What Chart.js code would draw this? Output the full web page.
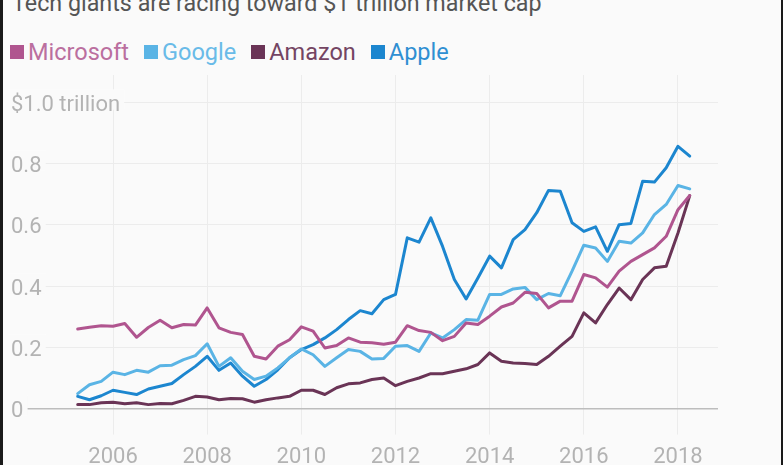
<!DOCTYPE html>
<html>
<head>
<meta charset="utf-8">
<script src="https://cdn.jsdelivr.net/npm/chart.js@4"></script>
<style>
  html, body { margin: 0; padding: 0; background: #fff; overflow: hidden; }
  #frame {
    position: absolute; left: 0; top: 0; width: 778px; height: 465px;
    background: #fafafa; border-left: 3px solid #1a1a1a; border-right: 2px solid #1a1a1a;
  }
  #title {
    position: absolute; left: 12px; top: -9px; font: 23.3px Roboto, sans-serif;
    line-height: 24px; color: #555; white-space: nowrap;
  }
  #legend {
    position: absolute; left: 10px; top: 40px; height: 24px; display: flex;
    align-items: center; font: 23.5px Roboto, sans-serif; line-height: 24px;
  }
  .item { display: flex; align-items: center; margin-right: 15px; }
  .swatch { width: 14px; height: 14px; margin-right: 4px; }
  #wrap { position: absolute; left: 0; top: 0; width: 784px; height: 484px; }
</style>
</head>
<body>
<div id="frame"></div>
<div id="title">Tech giants are racing toward $1 trillion market cap</div>
<div id="legend"></div>
<div id="wrap"><canvas id="marketCapChart"></canvas></div>
<script>
// quarter positions as decimal years
const quarters = [
  2005.25, 2005.5, 2005.75,
  2006, 2006.25, 2006.5, 2006.75,
  2007, 2007.25, 2007.5, 2007.75,
  2008, 2008.25, 2008.5, 2008.75,
  2009, 2009.25, 2009.5, 2009.75,
  2010, 2010.25, 2010.5, 2010.75,
  2011, 2011.25, 2011.5, 2011.75,
  2012, 2012.25, 2012.5, 2012.75,
  2013, 2013.25, 2013.5, 2013.75,
  2014, 2014.25, 2014.5, 2014.75,
  2015, 2015.25, 2015.5, 2015.75,
  2016, 2016.25, 2016.5, 2016.75,
  2017, 2017.25, 2017.5, 2017.75,
  2018, 2018.25
];

// market cap, $ trillion
const microsoft = [
  0.26, 0.266, 0.271, 0.269, 0.278, 0.233, 0.265, 0.289, 0.264, 0.275, 0.273, 0.329,
  0.264, 0.249, 0.242, 0.171, 0.162, 0.204, 0.225, 0.267, 0.253, 0.198, 0.206, 0.231,
  0.217, 0.215, 0.21, 0.217, 0.271, 0.255, 0.249, 0.222, 0.236, 0.28, 0.275, 0.302,
  0.332, 0.345, 0.38, 0.376, 0.329, 0.351, 0.351, 0.438, 0.427, 0.397, 0.449, 0.481,
  0.503, 0.525, 0.563, 0.65, 0.696
];
const google = [
  0.049, 0.078, 0.089, 0.119, 0.111, 0.125, 0.119, 0.14, 0.142, 0.16, 0.173, 0.212,
  0.138, 0.166, 0.122, 0.095, 0.106, 0.133, 0.166, 0.195, 0.176, 0.138, 0.166, 0.193,
  0.187, 0.162, 0.164, 0.204, 0.206, 0.187, 0.247, 0.231, 0.258, 0.291, 0.289, 0.373,
  0.373, 0.391, 0.396, 0.356, 0.376, 0.369, 0.449, 0.534, 0.525, 0.481, 0.547, 0.541,
  0.574, 0.634, 0.667, 0.729, 0.718
];
const amazon = [
  0.013, 0.013, 0.019, 0.021, 0.016, 0.019, 0.013, 0.017, 0.016, 0.027, 0.04, 0.038,
  0.029, 0.033, 0.032, 0.021, 0.029, 0.035, 0.04, 0.06, 0.06, 0.046, 0.068, 0.081,
  0.084, 0.095, 0.1, 0.075, 0.089, 0.1, 0.114, 0.114, 0.122, 0.13, 0.144, 0.182,
  0.155, 0.149, 0.147, 0.144, 0.171, 0.204, 0.236, 0.313, 0.28, 0.34, 0.394, 0.356,
  0.422, 0.46, 0.465, 0.574, 0.696
];
const apple = [
  0.04, 0.029, 0.042, 0.06, 0.053, 0.046, 0.064, 0.073, 0.082, 0.111, 0.138, 0.171,
  0.125, 0.149, 0.106, 0.073, 0.095, 0.127, 0.166, 0.193, 0.209, 0.231, 0.258, 0.291,
  0.32, 0.31, 0.356, 0.373, 0.558, 0.544, 0.623, 0.53, 0.422, 0.358, 0.427, 0.498,
  0.46, 0.552, 0.585, 0.64, 0.713, 0.71, 0.607, 0.579, 0.594, 0.514, 0.601, 0.605,
  0.743, 0.74, 0.787, 0.857, 0.825
];

const yearTicks = [2006, 2008, 2010, 2012, 2014, 2016, 2018];
const valueTicks = [0, 0.2, 0.4, 0.6, 0.8, 1.0];
const valueTickLabels = ['0', '0.2', '0.4', '0.6', '0.8', '$1.0 trillion'];

const seriesNames = ['Microsoft', 'Google', 'Amazon', 'Apple'];
const seriesData = [microsoft, google, amazon, apple];
const seriesColors = ['#b0558f', '#5ab4e5', '#6a3456', '#1c86cf'];
const seriesTextColors = ['#bb6f9f', '#69bbe8', '#744563', '#2f8fd2'];

// html legend
const legendEl = document.getElementById('legend');
seriesNames.forEach((name, i) => {
    const item = document.createElement('div');
    item.className = 'item';
    item.innerHTML = `<span class="swatch" style="background:${seriesColors[i]}"></span>` +
        `<span style="color:${seriesTextColors[i]}">${name}</span>`;
    legendEl.appendChild(item);
});

const tickFont = { family: 'Roboto, sans-serif', size: 22 };

new Chart(document.getElementById('marketCapChart'), {
    type: 'line',
    data: {
        datasets: seriesNames.map((name, i) => ({
            label: name,
            data: seriesData[i].map((v, j) => ({ x: quarters[j], y: v })),
            borderColor: seriesColors[i],
            backgroundColor: seriesColors[i],
            borderWidth: 3,
            pointRadius: 0,
            tension: 0,
            borderJoinStyle: 'round',
            borderCapStyle: 'round',
            fill: false
        }))
    },
    options: {
        responsive: true,
        maintainAspectRatio: false,
        animation: false,
        events: [],
        layout: { padding: { left: 8, right: 66, top: 75, bottom: 3 } },
        scales: {
            x: {
                type: 'linear',
                min: 2003.812,
                max: 2018.85,
                afterBuildTicks: scale => { scale.ticks = yearTicks.map(v => ({ value: v })); },
                grid: { color: '#ececec', lineWidth: 1, drawTicks: true, tickLength: 26, tickColor: '#ececec' },
                border: { display: false },
                ticks: {
                    font: tickFont,
                    color: '#b3b3b3',
                    padding: 10,
                    maxRotation: 0,
                    autoSkip: false,
                    callback: value => String(value)
                }
            },
            y: {
                min: 0,
                max: 1.09,
                afterBuildTicks: scale => { scale.ticks = valueTicks.map(v => ({ value: v })); },
                grid: {
                    color: ctx => ctx.tick && ctx.tick.value === 0 ? '#bdbdbd' : '#ececec',
                    lineWidth: ctx => ctx.tick && ctx.tick.value === 0 ? 1.5 : 1,
                    drawTicks: false
                },
                border: { display: false },
                ticks: {
                    mirror: true,
                    // empty first line nudges the label down onto its grid line
                    font: { family: 'Roboto, sans-serif', size: 22, lineHeight: '6px' },
                    color: '#b3b3b3',
                    padding: 1,
                    showLabelBackdrop: true,
                    backdropColor: '#fafafa',
                    backdropPadding: { left: 3, right: 4, top: 4, bottom: 4 },
                    callback: (value, index) => ['', valueTickLabels[index]]
                }
            }
        },
        plugins: {
            legend: { display: false },
            title: { display: false },
            tooltip: { enabled: false }
        }
    }
});
</script>
</body>
</html>
